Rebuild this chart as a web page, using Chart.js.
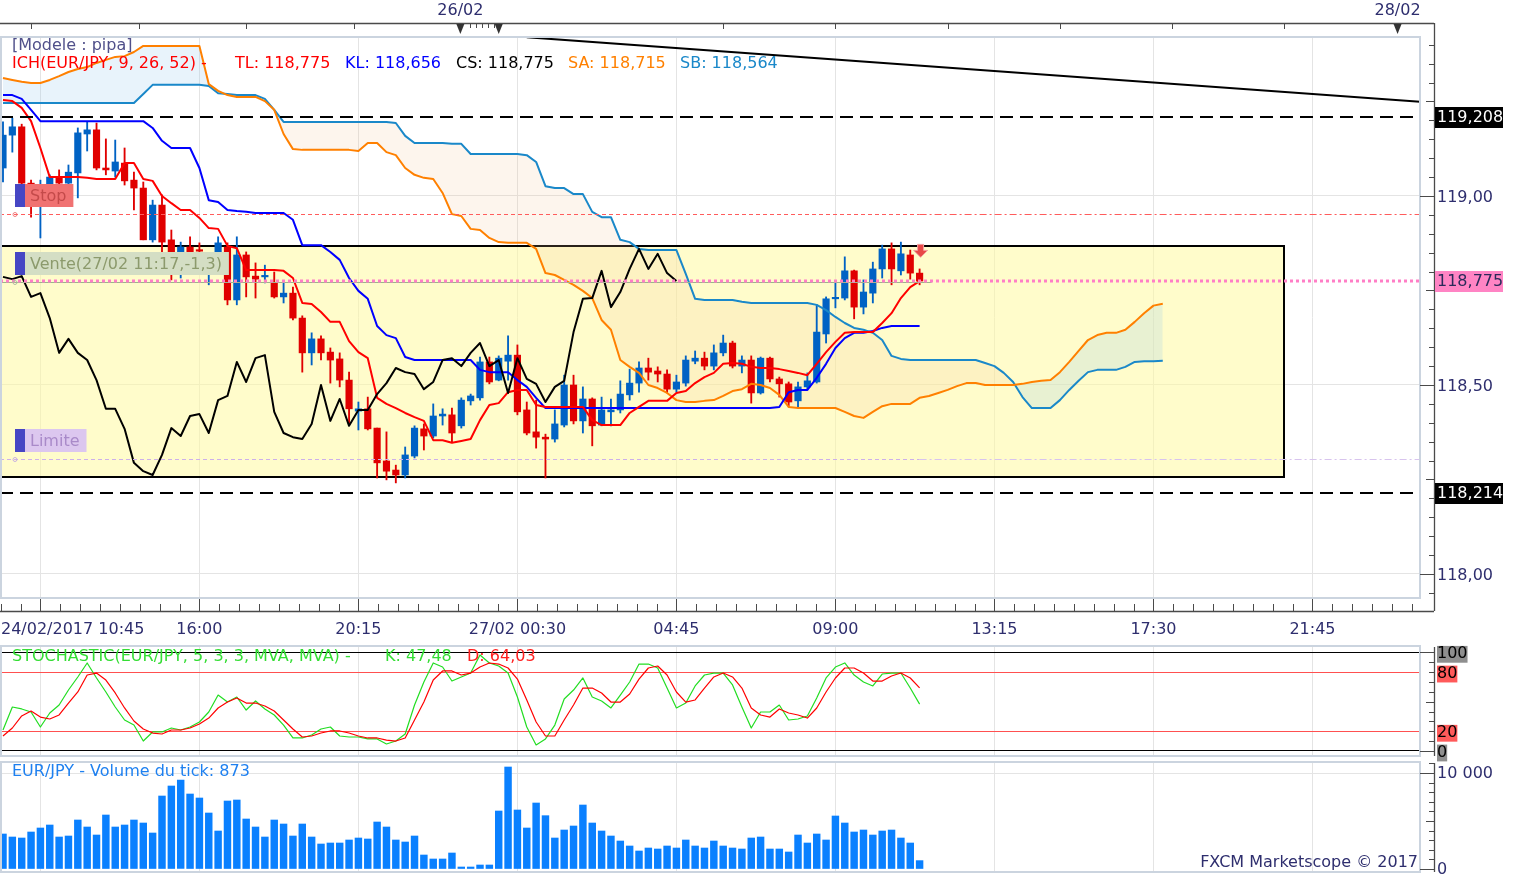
<!DOCTYPE html>
<html><head><meta charset="utf-8">
<script src="https://cdn.jsdelivr.net/npm/chart.js@4.4.0/dist/chart.umd.min.js"></script>
<style>
html,body{margin:0;padding:0;background:#fff;width:1516px;height:874px;overflow:hidden;}
canvas{position:absolute;left:0;top:0;}
</style></head><body>
<canvas id="cMain" width="1516" height="874"></canvas>
<canvas id="cStoch" width="1516" height="874"></canvas>
<canvas id="cVol" width="1516" height="874"></canvas>
<script>
// ---------- DATA (15-minute EUR/JPY bars, index 0 = 24/02/2017 10:45) ----------
const opens = [119.074,119.161,119.183,119.034,118.989,119.011,119.050,119.034,119.061,119.164,
119.175,119.074,119.066,119.087,119.042,119.021,118.884,118.976,118.884,118.852,
118.865,118.857,118.799,118.852,118.865,118.725,118.844,118.788,118.786,118.770,
118.733,118.743,118.677,118.585,118.622,118.587,118.569,118.513,118.431,118.437,
118.386,118.299,118.275,118.262,118.312,118.384,118.365,118.418,118.421,118.392,
118.458,118.466,118.561,118.513,118.563,118.579,118.434,118.376,118.362,118.357,
118.394,118.500,118.405,118.463,118.394,118.429,118.434,118.474,118.505,118.545,
118.537,118.529,118.489,118.505,118.563,118.571,118.550,118.585,118.611,118.550,
118.566,118.479,118.571,118.516,118.503,118.458,118.495,118.508,118.635,118.728,
118.730,118.802,118.706,118.743,118.807,118.860,118.802,118.844,118.796];
const highs = [119.196,119.206,119.190,119.042,119.042,119.056,119.069,119.082,119.180,119.196,
119.193,119.151,119.148,119.127,119.063,119.037,118.989,119.003,118.910,118.878,
118.892,118.876,118.836,118.892,118.876,118.892,118.852,118.823,118.817,118.799,
118.770,118.759,118.683,118.638,118.630,118.598,118.585,118.534,118.455,118.468,
118.386,118.376,118.288,118.336,118.392,118.397,118.450,118.437,118.439,118.466,
118.476,118.574,118.574,118.577,118.630,118.606,118.455,118.460,118.370,118.434,
118.526,118.526,118.495,118.466,118.468,118.463,118.511,118.542,118.561,118.571,
118.548,118.540,118.526,118.577,118.590,118.587,118.606,118.632,118.616,118.577,
118.577,118.574,118.574,118.521,118.508,118.508,118.532,118.712,118.733,118.770,
118.839,118.804,118.778,118.825,118.870,118.876,118.878,118.857,118.807];
const lows = [119.037,119.116,119.026,118.944,118.889,119.000,119.016,119.021,118.995,119.119,
119.069,119.056,119.050,119.029,118.963,118.884,118.878,118.852,118.778,118.783,
118.836,118.825,118.765,118.844,118.712,118.712,118.733,118.730,118.770,118.730,
118.717,118.672,118.534,118.553,118.566,118.505,118.495,118.399,118.381,118.381,
118.254,118.249,118.241,118.254,118.307,118.328,118.360,118.394,118.349,118.386,
118.447,118.460,118.503,118.511,118.513,118.421,118.368,118.333,118.254,118.349,
118.389,118.397,118.373,118.339,118.392,118.392,118.426,118.460,118.481,118.513,
118.508,118.479,118.481,118.497,118.556,118.540,118.540,118.577,118.545,118.532,
118.452,118.476,118.508,118.468,118.442,118.442,118.487,118.505,118.611,118.704,
118.725,118.675,118.688,118.717,118.783,118.765,118.791,118.780,118.765];
const closes = [119.161,119.183,119.034,118.989,119.029,119.050,119.034,119.063,119.167,119.175,
119.074,119.069,119.090,119.040,119.021,118.884,118.976,118.878,118.852,118.865,
118.852,118.854,118.815,118.876,118.725,118.844,118.786,118.780,118.788,118.733,
118.743,118.677,118.585,118.622,118.585,118.566,118.513,118.437,118.437,118.384,
118.294,118.272,118.262,118.315,118.386,118.365,118.418,118.423,118.373,118.460,
118.471,118.561,118.508,118.571,118.579,118.429,118.373,118.362,118.357,118.397,
118.500,118.405,118.463,118.392,118.434,118.434,118.476,118.505,118.545,118.534,
118.529,118.489,118.508,118.566,118.571,118.550,118.585,118.611,118.550,118.566,
118.479,118.571,118.516,118.503,118.455,118.495,118.511,118.640,118.728,118.730,
118.802,118.706,118.746,118.807,118.860,118.807,118.847,118.796,118.775];

const tenkan = [119.254,119.251,119.233,119.198,119.127,119.050,119.050,119.050,119.050,119.048,
119.045,119.045,119.045,119.087,119.087,119.045,119.040,119.000,118.981,118.963,
118.963,118.942,118.915,118.913,118.868,118.862,118.804,118.804,118.804,118.804,
118.802,118.783,118.717,118.714,118.693,118.667,118.667,118.616,118.587,118.571,
118.466,118.450,118.439,118.426,118.415,118.405,118.354,118.354,118.347,118.352,
118.357,118.407,118.447,118.452,118.481,118.487,118.487,118.447,118.442,118.442,
118.442,118.442,118.442,118.407,118.394,118.394,118.394,118.426,118.442,118.458,
118.458,118.458,118.479,118.484,118.505,118.521,118.532,118.556,118.558,118.556,
118.548,118.545,118.545,118.542,118.537,118.532,118.526,118.556,118.587,118.614,
118.638,118.640,118.640,118.640,118.664,118.690,118.730,118.759,118.775];
const kijun = [119.267,119.267,119.257,119.228,119.198,119.198,119.198,119.198,119.198,119.198,
119.198,119.198,119.198,119.198,119.198,119.198,119.180,119.146,119.127,119.127,
119.127,119.074,118.989,118.984,118.963,118.960,118.958,118.955,118.955,118.955,
118.955,118.937,118.870,118.870,118.870,118.852,118.831,118.783,118.749,118.728,
118.656,118.632,118.624,118.574,118.566,118.566,118.566,118.566,118.566,118.566,
118.566,118.540,118.534,118.534,118.534,118.513,118.495,118.466,118.439,118.439,
118.439,118.439,118.439,118.439,118.439,118.439,118.439,118.439,118.439,118.439,
118.439,118.439,118.439,118.439,118.439,118.439,118.439,118.439,118.439,118.439,
118.439,118.439,118.439,118.442,118.481,118.487,118.487,118.519,118.556,118.598,
118.624,118.638,118.638,118.643,118.651,118.656,118.656,118.656,118.656];
const senkouA = [119.312,119.307,119.302,119.299,119.299,119.307,119.317,119.328,119.336,119.341,
119.352,119.360,119.368,119.370,119.381,119.397,119.397,119.397,119.397,119.397,
119.397,119.397,119.296,119.278,119.267,119.262,119.262,119.262,119.251,119.228,
119.164,119.124,119.122,119.122,119.122,119.122,119.122,119.122,119.119,119.140,
119.140,119.116,119.108,119.074,119.056,119.048,119.045,119.008,118.952,118.947,
118.913,118.910,118.889,118.878,118.876,118.876,118.876,118.860,118.796,118.791,
118.778,118.765,118.749,118.730,118.672,118.646,118.566,118.548,118.532,118.500,
118.492,118.479,118.460,118.455,118.455,118.458,118.460,118.471,118.484,118.489,
118.503,118.500,118.492,118.474,118.442,118.439,118.439,118.439,118.439,118.439,
118.429,118.418,118.413,118.429,118.444,118.450,118.450,118.450,118.466,118.471,
118.479,118.487,118.497,118.505,118.505,118.500,118.500,118.500,118.500,118.503,
118.508,118.511,118.513,118.534,118.561,118.590,118.619,118.632,118.638,118.638,
118.646,118.667,118.690,118.710,118.715];
const senkouB = [119.246,119.246,119.246,119.246,119.246,119.246,119.246,119.246,119.246,119.246,
119.246,119.246,119.246,119.246,119.246,119.270,119.294,119.294,119.294,119.294,
119.294,119.294,119.291,119.272,119.270,119.267,119.267,119.267,119.257,119.228,
119.196,119.196,119.196,119.196,119.196,119.196,119.196,119.196,119.196,119.196,
119.196,119.196,119.193,119.159,119.140,119.140,119.140,119.140,119.138,119.138,
119.111,119.111,119.111,119.111,119.111,119.111,119.108,119.090,119.026,119.021,
119.021,119.005,119.005,118.958,118.944,118.944,118.884,118.878,118.860,118.857,
118.857,118.857,118.857,118.794,118.728,118.725,118.725,118.725,118.725,118.720,
118.717,118.717,118.717,118.717,118.717,118.717,118.717,118.712,118.698,118.680,
118.664,118.651,118.646,118.638,118.619,118.577,118.569,118.566,118.566,118.566,
118.566,118.566,118.566,118.566,118.566,118.558,118.550,118.532,118.508,118.468,
118.439,118.439,118.439,118.460,118.487,118.511,118.534,118.540,118.540,118.540,
118.548,118.561,118.563,118.563,118.564];

const stochK = [21.3,44.6,42.6,39.5,24.3,38.5,46.6,61.8,75.0,89.2,
74.0,59.8,44.6,31.4,26.3,10.1,19.3,19.3,23.3,21.3,
24.3,29.4,39.5,56.7,49.6,54.7,41.5,50.7,42.6,36.5,
26.3,13.2,13.2,16.2,22.3,24.3,15.2,14.2,14.2,12.2,
12.2,7.1,10.1,17.2,46.6,69.9,89.2,85.1,70.9,75.0,
79.0,97.3,89.2,86.1,79.0,54.7,24.3,6.1,12.2,26.3,
52.7,61.8,74.0,54.7,50.7,43.6,56.7,69.9,88.1,88.1,
84.1,63.8,43.6,48.6,65.9,77.0,79.0,79.0,66.9,44.6,
23.3,39.5,39.5,46.6,31.4,32.4,35.5,53.7,74.0,85.1,
89.2,77.0,69.9,65.9,78.0,79.0,79.0,63.8,47.48];
const stochD = [15.2,23.3,35.5,40.5,34.4,32.4,36.5,48.6,59.8,77.0,
79.0,71.9,58.8,43.6,30.4,22.3,18.2,17.2,21.3,21.3,
23.3,27.4,33.4,43.6,49.6,53.7,48.6,48.6,45.6,40.5,
31.4,22.3,14.2,15.2,18.2,20.3,20.3,18.2,15.2,13.2,
13.2,11.1,10.1,13.2,31.4,49.6,71.9,81.1,81.1,77.0,
79.0,85.1,89.2,88.1,84.1,72.9,51.7,29.4,15.2,15.2,
31.4,46.6,63.8,63.8,58.8,49.6,49.6,57.8,72.9,84.1,
86.1,77.0,59.8,49.6,51.7,63.8,75.0,79.0,75.0,63.8,
43.6,36.5,34.4,42.6,38.5,36.5,33.4,43.6,59.8,74.0,
84.1,84.1,79.0,70.9,70.9,76.0,79.0,74.0,64.03];
const volume = [3646,3333,3229,3854,4271,4583,3333,3437,5104,4375,
3541,5625,4375,4583,5104,4791,3750,7604,8646,9271,
7812,7396,5833,3958,7083,7187,5208,4375,3333,5104,
4687,3437,4687,3333,2604,2708,2708,3021,3229,3125,
4896,4375,3021,2812,3437,1458,1042,1042,1667,208,
208,417,417,6041,10625,6146,4271,6875,5555,3229,
4062,4479,6666,4791,3958,3437,2916,2396,1875,2187,
2083,2396,2187,3021,2396,2187,2916,2396,2187,2083,
3229,3333,2083,2083,1771,3541,2708,3646,3021,5521,
4791,3854,4062,3541,3958,4062,3229,2708,873];

// axis / annotation values
const gridIdx = [4,21,38,55,72,89,106,123,140];
const xLabelIdx = [21,38,55,72,89,106,123,140];
const xLabels = ['16:00','20:15','27/02 00:30','04:45','09:00','13:15','17:30','21:45'];
const firstXLabel = '24/02/2017 10:45';
const topTickIdx = [3,14.5,26,37.5,77,89,101,113,125,137];
const dayMarkIdx = [48.9,53,149.1];
const dayLabels = [['26/02',48.9],['28/02',149.1]];
const weekendTickIdx = [49.9,50.55,51.2,51.85,52.5];
const priceTicks = [118.0,118.5,119.0];
const levelPrices = [119.208,118.214];
const stopPrice = 118.952, ventePrice = 118.772, limitPrice = 118.304;
const boxIdx = [-5,137], boxPrice = [118.868,118.257];
const trendIdx = [56,151.5], trendPrice = [119.42,119.249];
const arrowIdx = 98, arrowPrice = 118.872;
const stochTicks = [0,20,80,100];
const volTicks = [0,10000];
const xMin = -0.32, xMax = 151.5;

// ---------- helpers ----------
const F = '"DejaVu Sans", Verdana, sans-serif';
const NAVY = '#2e2e6e';
const fmt3 = v => v.toFixed(3).replace('.', ',');
const fmt2 = v => v.toFixed(2).replace('.', ',');
const pts = arr => arr.map((v,i)=>({x:i,y:v}));
const last = a => a[a.length-1];
function txt(ctx, s, x, y, color, align){ ctx.font='16px '+F; ctx.fillStyle=color; ctx.textAlign=align||'left'; ctx.textBaseline='middle'; ctx.fillText(s,x,y); }
function seg(ctx,x1,y1,x2,y2,color,lw,dash){ ctx.save(); ctx.strokeStyle=color; ctx.lineWidth=lw; ctx.setLineDash(dash||[]); ctx.beginPath(); ctx.moveTo(x1,y1); ctx.lineTo(x2,y2); ctx.stroke(); ctx.restore(); }
const crisp = y => Math.round(y)+0.5;

Chart.defaults.font.family = F;
Chart.defaults.font.size = 16;

const xScaleCfg = () => ({
  type:'linear', min:xMin, max:xMax, offset:false,
  grid:{color:'#e4e4e4', drawTicks:false, offset:false},
  border:{display:false}, ticks:{display:false},
  afterBuildTicks: s => { s.ticks = gridIdx.map(v=>({value:v})); },
  afterFit: s => { s.height = 0; s.paddingLeft = 0; s.paddingRight = 0; s.paddingTop = 0; s.paddingBottom = 0; }
});
const yFit = s => { s.width = 96; s.paddingTop = 0; s.paddingBottom = 0; s.paddingLeft = 0; s.paddingRight = 0; };
const baseOpts = (padTop, padBottom) => ({
  responsive:false, animation:false, devicePixelRatio:1, events:[],
  layout:{padding:{left:0,right:0,top:padTop,bottom:padBottom}},
  plugins:{legend:{display:false}, tooltip:{enabled:false}},
  elements:{point:{radius:0}, line:{tension:0, borderJoinStyle:'round'}}
});

// ---------- main price chart ----------
const idx = closes.map((_,i)=>i);
const candleColors = idx.map(i => closes[i] >= opens[i] ? '#0062c4' : '#e00000');
const bodyData = idx.map(i => ({x:i, y:[opens[i], closes[i]]}));
const wickData = idx.map(i => ({x:i, y:[lows[i], highs[i]]}));
const chikouPts = closes.slice(26).map((c,i)=>({x:i,y:c}));
const trendPts = trendIdx.map((t,k)=>({x:t,y:trendPrice[k]}));

const mainDeco = {
  id:'mainDeco',
  beforeDatasetsDraw(chart){
    const {ctx, chartArea:a, scales:{x:X, y:Y}} = chart;
    ctx.save(); ctx.beginPath(); ctx.rect(a.left,a.top,a.right-a.left,a.bottom-a.top); ctx.clip();
    const x1 = X.getPixelForValue(boxIdx[0]), x2 = Math.round(X.getPixelForValue(boxIdx[1]));
    const y1 = Math.round(Y.getPixelForValue(boxPrice[0])), y2 = Math.round(Y.getPixelForValue(boxPrice[1]));
    ctx.fillStyle = 'rgba(255,250,160,0.55)';
    ctx.fillRect(x1,y1,x2-x1,y2-y1);
    ctx.strokeStyle='#000'; ctx.lineWidth=2; ctx.strokeRect(x1,y1,x2-x1,y2-y1);
    ctx.restore();
  },
  afterDatasetsDraw(chart){
    const {ctx, chartArea:a, scales:{x:X, y:Y}} = chart;
    ctx.save(); ctx.beginPath(); ctx.rect(a.left,a.top,a.right-a.left,a.bottom-a.top); ctx.clip();
    levelPrices.forEach(p => { const y = Math.round(Y.getPixelForValue(p)); seg(ctx,a.left,y,a.right,y,'#000',2,[13,7]); });
    const xl = X.getPixelForValue(closes.length-1);
    const ys = crisp(Y.getPixelForValue(stopPrice));
    seg(ctx,a.left,ys,xl,ys,'#ff5c5c',1,[4,3]); seg(ctx,xl,ys,a.right,ys,'#ff5c5c',1,[7,3,2,3]);
    const yl = crisp(Y.getPixelForValue(limitPrice));
    seg(ctx,a.left,yl,xl,yl,'#cdb0ea',1,[4,3]); seg(ctx,xl,yl,a.right,yl,'#d8c4ee',1,[7,3,2,3]);
    const yv = crisp(Y.getPixelForValue(ventePrice));
    seg(ctx,a.left,yv,xl+12,yv,'#9cb48c',1);
    const yc = Math.round(Y.getPixelForValue(last(closes)));
    seg(ctx,a.left,yc,a.right,yc,'#ff7ec6',3,[3,3]);
    [[ys,'#f08080'],[yl,'#c8b0e0'],[yv,'#b0c0a0']].forEach(([y,c])=>{ctx.strokeStyle=c;ctx.lineWidth=1;ctx.setLineDash([]);ctx.beginPath();ctx.arc(15,y,2,0,Math.PI*2);ctx.stroke();});
    const tag = (price, text, bg, fg) => {
      const yb = Math.round(Y.getPixelForValue(price)) - 7, h = 23, yt = yb - h;
      ctx.font='16px '+F; const w = ctx.measureText(text).width;
      ctx.fillStyle='#4646c4'; ctx.fillRect(15,yt,10,h);
      ctx.fillStyle=bg; ctx.fillRect(25,yt,w+12,h);
      txt(ctx,text,30,yt+h/2+1,fg);
    };
    tag(stopPrice,'Stop','#f07272','#c44a4a');
    tag(ventePrice,'Vente(27/02 11:17,-1,3)','#d4dec4','#8c9a6c');
    tag(limitPrice,'Limite','#dcc7ef','#a98ac9');
    const ax = X.getPixelForValue(arrowIdx)+1, ay = Y.getPixelForValue(arrowPrice);
    ctx.fillStyle='#e84848'; ctx.strokeStyle='#f4a0a0'; ctx.lineWidth=1;
    ctx.beginPath(); ctx.moveTo(ax-3,ay); ctx.lineTo(ax+3,ay); ctx.lineTo(ax+3,ay+6); ctx.lineTo(ax+7,ay+6);
    ctx.lineTo(ax,ay+13); ctx.lineTo(ax-7,ay+6); ctx.lineTo(ax-3,ay+6); ctx.closePath(); ctx.fill(); ctx.stroke();
    ctx.restore();
  },
  afterDraw(chart){
    const {ctx, chartArea:a, scales:{x:X, y:Y}} = chart;
    const R = a.right + 14, B = a.bottom + 13, T = a.top - 14;
    ctx.save();
    ctx.strokeStyle='#cbd4df'; ctx.lineWidth=2; ctx.strokeRect(a.left+1,a.top,a.right-a.left-1,a.bottom-a.top);
    const axc = '#4a4a4a';
    seg(ctx,0,T+0.5,R,T+0.5,axc,1.3); seg(ctx,R+0.5,T,R+0.5,B,axc,1.3); seg(ctx,0,B+0.5,R,B+0.5,axc,1.3);
    for (let k = Math.ceil(Y.min/0.05); k*0.05 <= Y.max; k++){
      const y = crisp(Y.getPixelForValue(k*0.05));
      const len = k%10===0 ? 14 : (k%5===0 ? 8 : 5);
      seg(ctx,R-len,y,R,y,axc,1);
    }
    const st = 17/8;
    for (let n = -8; ; n++){
      const t = gridIdx[0] + n*st; if (t > X.max) break;
      const x = crisp(X.getPixelForValue(t)); if (x < 0 || x > a.right) continue;
      const major = n % 8 === 0;
      seg(ctx,x,B,x,B-(major?12:7),axc,1);
    }
    topTickIdx.forEach(t => { const x = crisp(X.getPixelForValue(t)); seg(ctx,x,T,x,T+6,axc,1); });
    weekendTickIdx.forEach(t => { const x = crisp(X.getPixelForValue(t)); seg(ctx,x,T,x,T+5,axc,1); });
    dayMarkIdx.forEach(t => { const x = X.getPixelForValue(t); ctx.fillStyle='#333'; ctx.beginPath(); ctx.moveTo(x-4,T+1); ctx.lineTo(x+4,T+1); ctx.lineTo(x,T+11); ctx.closePath(); ctx.fill(); });
    dayLabels.forEach(([s,t]) => txt(ctx,s,X.getPixelForValue(t),11,NAVY,'center'));
    txt(ctx,firstXLabel,1,B+19,NAVY,'left');
    xLabelIdx.forEach((t,k)=> txt(ctx,xLabels[k],X.getPixelForValue(t),B+19,NAVY,'center'));
    const box = (p,bg,fg) => { const y = Math.round(Y.getPixelForValue(p)); ctx.fillStyle=bg; ctx.fillRect(R+1,y-10,68,21); txt(ctx,fmt3(p),R+3,y+1,fg); };
    levelPrices.forEach(p => box(p,'#000','#fff'));
    box(last(closes),'#ff84c4','#2a2a5a');
    txt(ctx,'[Modele : pipa]',12,46,'#50508a');
    txt(ctx,'ICH(EUR/JPY, 9, 26, 52) -',12,64,'#ff0000');
    txt(ctx,'TL: '+fmt3(last(tenkan)),235,64,'#ff0000');
    txt(ctx,'KL: '+fmt3(last(kijun)),345,64,'#0000ff');
    txt(ctx,'CS: '+fmt3(last(closes)),456,64,'#000000');
    txt(ctx,'SA: '+fmt3(last(senkouA)),568,64,'#ff8000');
    txt(ctx,'SB: '+fmt3(last(senkouB)),680,64,'#1a88c9');
    ctx.restore();
  }
};

new Chart(document.getElementById('cMain'), {
  type:'line',
  data:{datasets:[
    {label:'Trend', data:trendPts, borderColor:'#000', borderWidth:2, order:0},
    {label:'Chikou', data:chikouPts, borderColor:'#000', borderWidth:2, order:1},
    {label:'Tenkan', data:pts(tenkan), borderColor:'#ff0000', borderWidth:2, order:2},
    {label:'Kijun', data:pts(kijun), borderColor:'#0000ff', borderWidth:2, order:3},
    {label:'Senkou A', data:pts(senkouA), borderColor:'#ff8000', borderWidth:2, order:4},
    {label:'Senkou B', data:pts(senkouB), borderColor:'#1a88c9', borderWidth:2, order:5},
    {type:'bar', label:'Bodies', data:bodyData, backgroundColor:candleColors, barThickness:6.5, grouped:false, minBarLength:1.5, order:10},
    {type:'bar', label:'Wicks', data:wickData, backgroundColor:candleColors, barThickness:1.2, grouped:false, order:11},
    {label:'CloudA', data:pts(senkouA), borderColor:'transparent', borderWidth:1, fill:{target:'+1', above:'rgba(150,200,235,0.22)', below:'rgba(245,195,150,0.17)'}, order:20},
    {label:'CloudB', data:pts(senkouB), borderColor:'transparent', borderWidth:1, fill:false, order:21}
  ]},
  options:Object.assign(baseOpts(37,276), {
    scales:{
      x:xScaleCfg(),
      y:{position:'right', min:117.9365, max:119.4206,
        grid:{color:'#e4e4e4', drawTicks:false}, border:{display:false},
        ticks:{color:NAVY, font:{size:16}, padding:17, labelOffset:2, callback:v=>fmt2(v)},
        afterBuildTicks:s=>{s.ticks = priceTicks.map(v=>({value:v}));},
        afterFit:yFit}
    }
  }),
  plugins:[mainDeco]
});

// ---------- panels ----------
const panelDeco = (id, minor, mid, major, draw) => ({
  id,
  afterDraw(chart){
    const {ctx, chartArea:a, scales:{y:Y}} = chart;
    const R = a.right + 14;
    ctx.save();
    ctx.strokeStyle='#cbd4df'; ctx.lineWidth=2; ctx.strokeRect(a.left+1,a.top,a.right-a.left-1,a.bottom-a.top);
    seg(ctx,R+0.5,a.top+1,R+0.5,a.bottom,'#4a4a4a',1.3);
    for (let k = Math.ceil(Y.min/minor); k*minor <= Y.max; k++){
      const v = k*minor, y = crisp(Y.getPixelForValue(v));
      const len = v % major === 0 ? 14 : (v % mid === 0 ? 8 : 5);
      seg(ctx,R-len,y,R,y,'#4a4a4a',1);
    }
    draw(ctx,a);
    ctx.restore();
  }
});

new Chart(document.getElementById('cStoch'), {
  type:'line',
  data:{datasets:[
    {label:'%K', data:pts(stochK), borderColor:'#22dd22', borderWidth:1.2, order:1},
    {label:'%D', data:pts(stochD), borderColor:'#ff0000', borderWidth:1.2, order:0}
  ]},
  options:Object.assign(baseOpts(646,118), {
    scales:{
      x:xScaleCfg(),
      y:{position:'right', min:-5.07, max:106.4,
        grid:{color:c => (c.tick && (c.tick.value===0 || c.tick.value===100)) ? '#000' : '#ff5050', drawTicks:false},
        border:{display:false},
        ticks:{color:'#000', font:{size:16, lineHeight:1.05}, padding:17, labelOffset:2, showLabelBackdrop:true, backdropPadding:0,
          backdropColor:c => (c.tick.value===0 || c.tick.value===100) ? '#8e8e8e' : '#ff5a5a', callback:v=>String(v)},
        afterBuildTicks:s=>{s.ticks = stochTicks.map(v=>({value:v}));},
        afterFit:yFit}
    }
  }),
  plugins:[panelDeco('stochDeco',10,50,100,(ctx)=>{
    txt(ctx,'STOCHASTIC(EUR/JPY, 5, 3, 3, MVA, MVA) -',12,657,'#33dd33');
    txt(ctx,'K: '+last(stochK).toFixed(2).replace('.',','),385,657,'#33dd33');
    txt(ctx,'D: '+last(stochD).toFixed(2).replace('.',','),467,657,'#ff2020');
  })]
});

new Chart(document.getElementById('cVol'), {
  type:'line',
  data:{datasets:[
    {type:'bar', label:'Volume du tick', data:pts(volume), backgroundColor:'#0a80ff', barThickness:6.8, grouped:false}
  ]},
  options:Object.assign(baseOpts(762,2), {
    scales:{
      x:xScaleCfg(),
      y:{position:'right', min:-312.5, max:11146,
        grid:{color:c => (c.tick && c.tick.value===10000) ? '#e4e4e4' : 'transparent', drawTicks:false},
        border:{display:false},
        ticks:{color:NAVY, font:{size:16}, padding:17, labelOffset:1, callback:v => v===10000 ? '10 000' : '0'},
        afterBuildTicks:s=>{s.ticks = volTicks.map(v=>({value:v}));},
        afterFit:yFit}
    }
  }),
  plugins:[panelDeco('volDeco',1000,5000,10000,(ctx,a)=>{
    txt(ctx,'EUR/JPY - Volume du tick: '+last(volume),12,772,'#1e80f0');
    txt(ctx,'FXCM Marketscope © 2017',a.right-2,863,NAVY,'right');
  })]
});
</script>
</body></html>
